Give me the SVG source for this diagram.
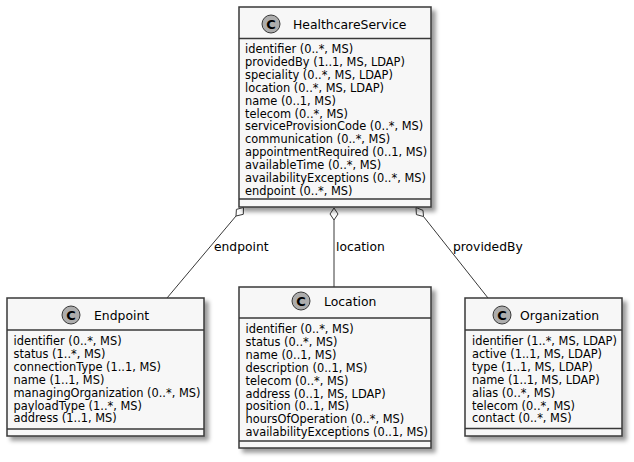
<svg xmlns="http://www.w3.org/2000/svg" width="634" height="462" viewBox="0 0 634 462">
<defs>
<filter id="sh" x="-10%" y="-10%" width="130%" height="130%">
<feGaussianBlur in="SourceAlpha" stdDeviation="2"/>
<feOffset dx="4" dy="4" result="b"/>
<feFlood flood-color="#000" flood-opacity="0.4"/>
<feComposite in2="b" operator="in"/>
<feMerge><feMergeNode/><feMergeNode in="SourceGraphic"/></feMerge>
</filter>
</defs>
<style>
.box{fill:#F7F7F7;stroke:#383838;stroke-width:1.5;filter:url(#sh)}
.sep{stroke:#383838;stroke-width:1.5}
.ci{fill:#ADADAD;stroke:#383838;stroke-width:1}
.cl{font-family:"DejaVu Sans",sans-serif;font-size:13px;font-weight:bold;fill:#000;text-anchor:middle}
.t{font-family:"DejaVu Sans",sans-serif;font-size:12.4px;fill:#000}
.a{font-family:"DejaVu Sans",sans-serif;font-size:11.4px;fill:#000}
.lb{font-family:"DejaVu Sans",sans-serif;font-size:12.3px;fill:#000}
.ln{stroke:#383838;stroke-width:1;fill:none}
.dm{fill:#fff;stroke:#383838;stroke-width:1}
</style>
<g id="connectors">
<line class="ln" x1="236" y1="216" x2="167" y2="298"/>
<polygon class="dm" points="243.5,207.5 243.3,214.3 236,216 236.4,209.4" transform="rotate(0)"/>
<text class="lb" x="214" y="251">endpoint</text>
<line class="ln" x1="334" y1="220" x2="334" y2="287"/>
<polygon class="dm" points="334,208 338,214 334,220 330,214"/>
<text class="lb" x="336" y="251">location</text>
<line class="ln" x1="423.5" y1="216.5" x2="488" y2="298"/>
<polygon class="dm" points="416,207.5 423,210.4 423.5,216.5 416.4,214.6"/>
<text class="lb" x="453" y="251">providedBy</text>
</g>
<g id="HealthcareService">
<rect class="box" x="239" y="7" width="192" height="200"/>
<line class="sep" x1="239" y1="38.5" x2="431" y2="38.5"/>
<line class="sep" x1="239" y1="199" x2="431" y2="199"/>
<circle class="ci" cx="271" cy="24" r="9"/>
<text class="cl" x="271" y="28.5">C</text>
<text class="t" x="293" y="28.5">HealthcareService</text>
<text class="a" x="245" y="53">identifier (0..*, MS)</text>
<text class="a" x="245" y="65.9">providedBy (1..1, MS, LDAP)</text>
<text class="a" x="245" y="78.8">speciality (0..*, MS, LDAP)</text>
<text class="a" x="245" y="91.7">location (0..*, MS, LDAP)</text>
<text class="a" x="245" y="104.6">name (0..1, MS)</text>
<text class="a" x="245" y="117.5">telecom (0..*, MS)</text>
<text class="a" x="245" y="130.4">serviceProvisionCode (0..*, MS)</text>
<text class="a" x="245" y="143.3">communication (0..*, MS)</text>
<text class="a" x="245" y="156.2">appointmentRequired (0..1, MS)</text>
<text class="a" x="245" y="169.1">availableTime (0..*, MS)</text>
<text class="a" x="245" y="182">availabilityExceptions (0..*, MS)</text>
<text class="a" x="245" y="194.9">endpoint (0..*, MS)</text>
</g>
<g id="Endpoint">
<rect class="box" x="7" y="298" width="197" height="138"/>
<line class="sep" x1="7" y1="330" x2="204" y2="330"/>
<line class="sep" x1="7" y1="429" x2="204" y2="429"/>
<circle class="ci" cx="71" cy="315" r="9"/>
<text class="cl" x="71" y="319.5">C</text>
<text class="t" x="94" y="319.5">Endpoint</text>
<text class="a" x="13.5" y="345">identifier (0..*, MS)</text>
<text class="a" x="13.5" y="357.9">status (1..*, MS)</text>
<text class="a" x="13.5" y="370.8">connectionType (1..1, MS)</text>
<text class="a" x="13.5" y="383.7">name (1..1, MS)</text>
<text class="a" x="13.5" y="396.6">managingOrganization (0..*, MS)</text>
<text class="a" x="13.5" y="409.5">payloadType (1..*, MS)</text>
<text class="a" x="13.5" y="422.4">address (1..1, MS)</text>
</g>
<g id="Location">
<rect class="box" x="239" y="287" width="192" height="161"/>
<line class="sep" x1="239" y1="318" x2="431" y2="318"/>
<line class="sep" x1="239" y1="441" x2="431" y2="441"/>
<circle class="ci" cx="301" cy="301" r="9"/>
<text class="cl" x="301" y="305.5">C</text>
<text class="t" x="324" y="305.5">Location</text>
<text class="a" x="245.5" y="333">identifier (0..*, MS)</text>
<text class="a" x="245.5" y="345.9">status (0..*, MS)</text>
<text class="a" x="245.5" y="358.8">name (0..1, MS)</text>
<text class="a" x="245.5" y="371.7">description (0..1, MS)</text>
<text class="a" x="245.5" y="384.6">telecom (0..*, MS)</text>
<text class="a" x="245.5" y="397.5">address (0..1, MS, LDAP)</text>
<text class="a" x="245.5" y="410.4">position (0..1, MS)</text>
<text class="a" x="245.5" y="423.3">hoursOfOperation (0..*, MS)</text>
<text class="a" x="245.5" y="436.2">availabilityExceptions (0..1, MS)</text>
</g>
<g id="Organization">
<rect class="box" x="465" y="298" width="157" height="138"/>
<line class="sep" x1="465" y1="330" x2="622" y2="330"/>
<line class="sep" x1="465" y1="428.5" x2="622" y2="428.5"/>
<circle class="ci" cx="502" cy="315" r="9"/>
<text class="cl" x="502" y="319.5">C</text>
<text class="t" x="520" y="319.5">Organization</text>
<text class="a" x="472" y="345">identifier (1..*, MS, LDAP)</text>
<text class="a" x="472" y="357.9">active (1..1, MS, LDAP)</text>
<text class="a" x="472" y="370.8">type (1..1, MS, LDAP)</text>
<text class="a" x="472" y="383.7">name (1..1, MS, LDAP)</text>
<text class="a" x="472" y="396.6">alias (0..*, MS)</text>
<text class="a" x="472" y="409.5">telecom (0..*, MS)</text>
<text class="a" x="472" y="422.4">contact (0..*, MS)</text>
</g>
</svg>
